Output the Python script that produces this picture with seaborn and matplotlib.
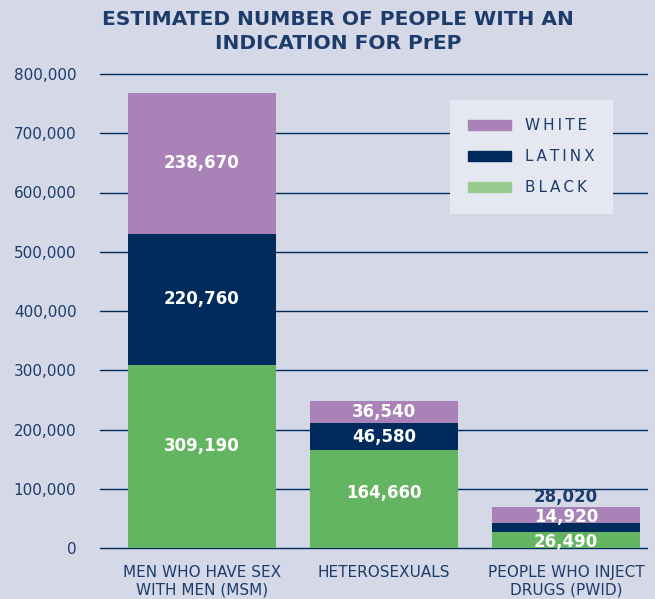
import matplotlib
matplotlib.use("Agg")
import matplotlib.pyplot as plt
import matplotlib.patches as mpatches
import seaborn as sns
import pandas as pd

categories = ["MEN WHO HAVE SEX\nWITH MEN (MSM)", "HETEROSEXUALS", "PEOPLE WHO INJECT\nDRUGS (PWID)"]
black = [309190, 164660, 26490]
latinx = [220760, 46580, 14920]
white = [238670, 36540, 28020]
yticks = [0, 100000, 200000, 300000, 400000, 500000, 600000, 700000, 800000]
title = "ESTIMATED NUMBER OF PEOPLE WITH AN\nINDICATION FOR PrEP"

BG = "#d5d9e7"
NAVY = "#002b5c"
PURPLE = "#a983b8"
GREEN = "#64b561"
GREEN_LEG = "#98cb8e"
TXT = "#1d3b6b"

sns.set_theme(style="white")
plt.rcParams["font.family"] = ["DejaVu Sans"]

df = pd.DataFrame({"cat": categories, "black": black, "latinx": latinx, "white": white})
df["bl"] = df["black"] + df["latinx"]
df["total"] = df["bl"] + df["white"]

fig = plt.figure(figsize=(6.55, 5.99), dpi=100, facecolor=BG)
ax = fig.add_axes([100/655, 1-548/599, (647-100)/655, (548-74)/599])
ax.set_facecolor(BG)

for y in yticks:
    ax.axhline(y, color=NAVY, lw=1.0, zorder=0, clip_on=False)

w = 0.81
for col, c, z in [("total", PURPLE, 2), ("bl", NAVY, 3), ("black", GREEN, 4)]:
    sns.barplot(data=df, x="cat", y=col, color=c, saturation=1, width=w, ax=ax,
                zorder=z, linewidth=0, edgecolor="none")

ax.set_xlim(-0.56, 2.445)
ax.set_ylim(0, 800000)
ax.set_yticks(yticks)
ax.set_yticklabels([f"{v:,}" for v in yticks], color=TXT, fontsize=11)
ax.tick_params(axis="y", length=0, pad=17)
ax.tick_params(axis="x", length=0, pad=12)
ax.set_xticks(range(len(categories)))
ax.set_xticklabels(categories, color=TXT, fontsize=11, linespacing=1.2)
ax.set_xlabel("")
ax.set_ylabel("")
for s in ax.spines.values():
    s.set_visible(False)

lab_kw = dict(ha="center", va="center", color="white", fontsize=12, fontweight="bold", zorder=6)
black_lift = [18000, 10000, 0]
for i in range(len(categories)):
    b, l, wv, t = df.loc[i, "black"], df.loc[i, "latinx"], df.loc[i, "white"], df.loc[i, "total"]
    if i < 2:
        ax.text(i, b/2 + black_lift[i], f"{b:,}", **lab_kw)
        ax.text(i, b + l/2, f"{l:,}", **lab_kw)
        ax.text(i, b + l + wv/2, f"{wv:,}", **lab_kw)
    else:
        ax.text(i, b/2 - 3000, f"{b:,}", **lab_kw)
        ax.text(i, b + l + wv/2 - 3000, f"{l:,}", **lab_kw)
        kw2 = dict(lab_kw); kw2["color"] = TXT
        ax.text(i, t + 17000, f"{wv:,}", **kw2)

fig.text(338/655, 1-10/599, title, ha="center", va="top", color=TXT,
         fontsize=14.5, fontweight="bold", linespacing=1.35)

def spaced(s):
    return "\u2009".join(s)

handles = [mpatches.Patch(color=PURPLE, label=spaced("WHITE")),
           mpatches.Patch(color=NAVY, label=spaced("LATINX")),
           mpatches.Patch(color=GREEN_LEG, label=spaced("BLACK"))]
leg = ax.legend(handles=handles, loc="upper left", bbox_to_anchor=(450/655, 1-100/599),
                bbox_transform=fig.transFigure, borderaxespad=0, frameon=True,
                facecolor="#e5e8f1", edgecolor="none", framealpha=1, fancybox=False,
                fontsize=11, handlelength=2.8, handleheight=0.7, labelspacing=1.05,
                borderpad=1.2, handletextpad=0.9)
leg.get_frame().set_linewidth(0)
for t in leg.get_texts():
    t.set_color(TXT)
leg.set_zorder(10)

fig.savefig("out.png", dpi=100, facecolor=BG)
